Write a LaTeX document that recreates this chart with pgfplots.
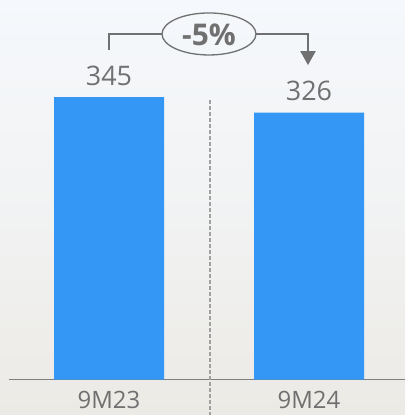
\documentclass[border=0pt]{standalone}
\usepackage{fontspec}
\setmainfont{Open Sans}
\usepackage{pgfplots}
\pgfplotsset{compat=1.18}
\usetikzlibrary{arrows.meta}
\definecolor{barblue}{RGB}{52,150,245}
\definecolor{txtgray}{RGB}{112,112,112}
\definecolor{axgray}{RGB}{128,128,128}
\definecolor{dashgray}{RGB}{160,160,160}
\definecolor{bgtop}{RGB}{245,248,252}
\definecolor{bgbot}{RGB}{236,234,229}

\begin{document}
\begin{tikzpicture}
\useasboundingbox (0,0) rectangle (405bp,415bp);
\clip (0,0) rectangle (405bp,415bp);
\shade[top color=bgtop, bottom color=bgbot, middle color=bgtop!60!bgbot] (0,0) rectangle (405bp,415bp);
\begin{axis}[at={(9bp,35.5bp)}, anchor=south west,
  scale only axis, width=396bp, height=379.5bp,
  xmin=-0.5, xmax=1.48, ymin=0, ymax=463.5,
  axis y line=none, axis x line*=bottom,
  x axis line style={draw=axgray, line width=1.2bp, -},
  xtick={0,1}, xticklabels={9M23,9M24}, major tick length=0,
  xticklabel style={anchor=base, yshift=-29bp, font=\fontsize{24}{24}\selectfont, text=txtgray},
  ytick=\empty, clip=false,
  ybar, bar width=0.55,
  nodes near coords,
  /pgf/number format/assume math mode=true,
  every node near coord/.append style={anchor=base, yshift=12bp, font=\fontsize{27}{27}\selectfont, text=txtgray}]
  \addplot[fill=barblue, draw=none] coordinates {(0,345) (1,326)};
  \draw[dashgray, line width=1.5bp, dash pattern=on 4bp off 2bp] (axis cs:0.505,341) -- (axis cs:0.505,-50);
  \draw[txtgray, line width=2.2bp] (axis cs:0,402) -- (axis cs:0,422) -- (axis cs:0.265,422);
  \draw[txtgray, line width=2.2bp, -{Triangle[width=15bp,length=14bp]}] (axis cs:0.735,422) -- (axis cs:0.995,422) -- (axis cs:0.995,384);
  \draw[txtgray, line width=1.3bp] (axis cs:0.5,422) ellipse [x radius=47bp, y radius=21bp];
  \node[text=txtgray, font=\bfseries\fontsize{30}{30}\selectfont] at (axis cs:0.5,421) {-5\%};
\end{axis}
\end{tikzpicture}
\end{document}
